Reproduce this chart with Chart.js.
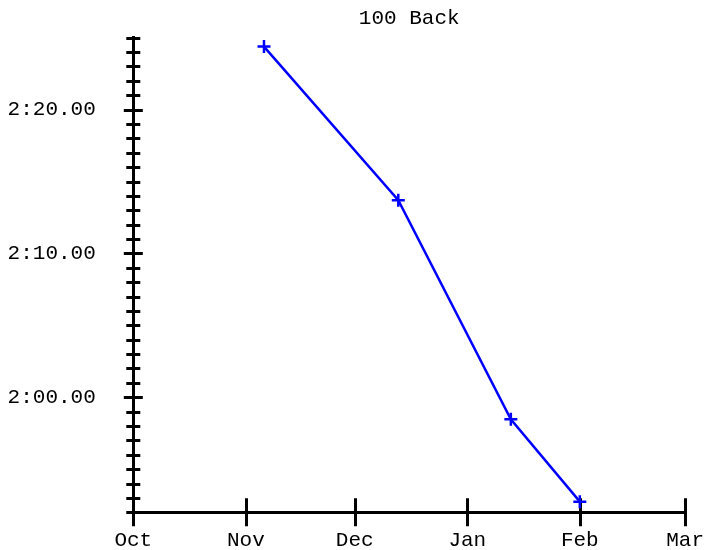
<!DOCTYPE html>
<html>
<head>
<meta charset="utf-8">
<script src="https://cdn.jsdelivr.net/npm/chart.js@4"></script>
<style>
    html, body { margin: 0; padding: 0; background: #fff; }
    canvas { display: block; }
</style>
</head>
<body>
<canvas id="swim-chart" width="706" height="550"></canvas>
<script>
var chartTitle = '100 Back';
var swimDates = ['2023-11-06', '2023-12-13', '2024-01-13', '2024-02-01'];
var swimTimes = [144.38, 133.7, 118.47, 112.74]; // seconds
var monthLabels = ['Oct', 'Nov', 'Dec', 'Jan', 'Feb', 'Mar'];
var monthStarts = ['2023-10-01', '2023-11-01', '2023-12-01', '2024-01-01', '2024-02-01', '2024-03-01'];
var yMin = 112;
var yMax = 145;

function dayNum(s) {
    var p = s.split('-');
    var base = monthStarts[0].split('-');
    return (Date.UTC(+p[0], p[1] - 1, +p[2]) - Date.UTC(+base[0], base[1] - 1, +base[2])) / 86400000;
}

function fmtTime(v) {
    var m = Math.floor(v / 60);
    var s = v - m * 60;
    return m + ':' + (s < 10 ? '0' : '') + s + '.00';
}

var monthDays = monthStarts.map(dayNum);
var points = swimDates.map(function (d, i) { return { x: dayNum(d), y: swimTimes[i] }; });

// tick marks that cross the axis line, longer on the 10 s marks
var crossTicks = {
    id: 'crossTicks',
    beforeDatasetsDraw: function (chart) {
        var ctx = chart.ctx;
        var area = chart.chartArea;
        var xs = chart.scales.x, ys = chart.scales.y;
        ctx.save();
        ctx.strokeStyle = '#000';
        ctx.lineWidth = 3;
        ctx.beginPath();
        for (var v = yMin; v <= yMax; v++) {
            var py = Math.round(ys.getPixelForValue(v)) + 0.5;
            var half = v % 10 === 0 ? 9.5 : 7;
            ctx.moveTo(area.left - half, py);
            ctx.lineTo(area.left + half, py);
        }
        monthDays.forEach(function (d) {
            var px = Math.round(xs.getPixelForValue(d)) + 0.5;
            ctx.moveTo(px, area.bottom - 14);
            ctx.lineTo(px, area.bottom + 14);
        });
        ctx.stroke();
        ctx.restore();
    }
};

Chart.defaults.font.family = '"Liberation Mono", "Courier New", monospace';
Chart.defaults.font.size = 21;
Chart.defaults.color = '#000';

new Chart(document.getElementById('swim-chart'), {
    type: 'line',
    data: {
        datasets: [
            {
                label: chartTitle,
                data: points,
                borderColor: '#0000ff',
                borderWidth: 2.5,
                pointStyle: 'cross',
                pointRadius: 6.5,
                pointBorderWidth: 2.5,
                pointBorderColor: '#0000ff',
                tension: 0
            }
        ]
    },
    options: {
        responsive: false,
        animation: false,
        layout: { padding: 0 },
        plugins: {
            legend: { display: false },
            tooltip: { enabled: false },
            title: {
                display: true,
                text: chartTitle,
                fullSize: false,
                color: '#000',
                font: { size: 21, weight: 'normal' },
                padding: { top: 6, bottom: 6.5 }
            }
        },
        scales: {
            x: {
                type: 'linear',
                min: monthDays[0],
                max: monthDays[monthDays.length - 1],
                grid: { display: false, tickLength: 14 },
                border: { display: true, color: '#000', width: 3 },
                afterBuildTicks: function (scale) {
                    scale.ticks = monthDays.map(function (d) { return { value: d }; });
                },
                afterFit: function (scale) { scale.height = 37.7; },
                ticks: {
                    autoSkip: false,
                    maxRotation: 0,
                    padding: 2,
                    callback: function (v, i) { return monthLabels[i]; }
                }
            },
            y: {
                min: yMin,
                max: yMax,
                grid: { display: false, tickLength: 37.5 },
                border: { display: true, color: '#000', width: 3 },
                afterFit: function (scale) { scale.width = 133.3; },
                ticks: {
                    stepSize: 10,
                    autoSkip: false,
                    padding: 0,
                    callback: function (v) { return v % 10 === 0 ? fmtTime(v) : null; }
                }
            }
        }
    },
    plugins: [crossTicks]
});
</script>
</body>
</html>
